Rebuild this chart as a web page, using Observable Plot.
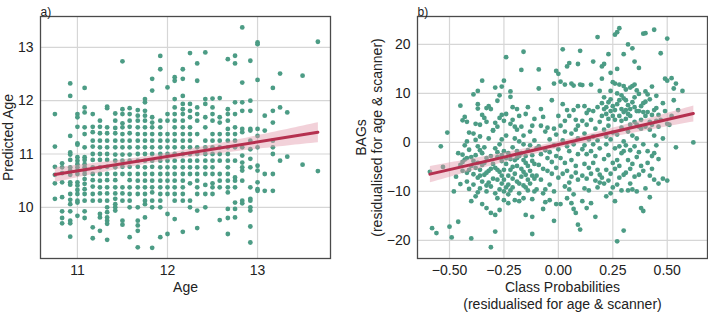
<!DOCTYPE html>
<html><head><meta charset="utf-8">
<script src="https://cdn.jsdelivr.net/npm/d3@7"></script>
<script src="https://cdn.jsdelivr.net/npm/@observablehq/plot@0.6"></script>
<style>
body{margin:0;background:#fff;font-family:"Liberation Sans",Arial,sans-serif}
#wrap{display:flex;width:708px;height:312px}
</style></head><body><div id="wrap"></div>
<script>
// Panel a: chronological age (monthly bins) and predicted age per bin
const ageBins = [10.75, 10.83, 10.92, 11.0, 11.08, 11.17, 11.25, 11.33, 11.42, 11.5, 11.58, 11.67, 11.75, 11.83, 11.92, 12.0, 12.08, 12.17, 12.25, 12.33, 12.42, 12.5, 12.58, 12.67, 12.75, 12.83, 12.92, 13.0, 13.08, 13.17, 13.25, 13.33, 13.5, 13.67];
const predictedByBin = [
 [11.75, 11.14, 10.76, 10.61, 10.45, 10.16],
 [10.825, 10.75, 10.64, 10.47, 10.19, 9.925, 9.8, 9.7],
 [12.325, 12.09, 11.34, 11.03, 10.99, 10.89, 10.75, 10.69, 10.61, 10.47, 10.425, 10.25, 10.14, 10.06, 9.925, 9.75, 9.7, 9.45],
 [11.75, 11.69, 11.51, 11.2, 11.175, 10.94, 10.875, 10.81, 10.75, 10.69, 10.625, 10.47, 10.41, 10.325, 10.25, 10.125, 10.09, 9.84],
 [12.24, 11.875, 11.78, 11.5, 11.375, 11.125, 10.94, 10.89, 10.81, 10.75, 10.69, 10.625, 10.53, 10.44, 10.34, 10.25, 10.125, 9.925, 9.8],
 [11.75, 11.51, 11.41, 11.25, 11.14, 11.0, 10.89, 10.75, 10.625, 10.51, 10.39, 10.25, 10.125, 9.625, 9.42],
 [11.625, 11.51, 11.39, 11.25, 11.125, 11.0, 10.89, 10.75, 10.625, 10.5, 10.375, 10.26, 10.125, 9.875, 9.81, 9.56],
 [11.89, 11.86, 11.5, 11.39, 11.25, 11.125, 11.0, 10.89, 10.76, 10.625, 10.51, 10.375, 10.26, 10.125, 10.0, 9.91, 9.81, 9.75, 9.69, 9.39],
 [11.76, 11.625, 11.49, 11.39, 11.25, 11.125, 10.99, 10.875, 10.75, 10.625, 10.51, 10.375, 10.26, 10.16, 10.06, 10.0, 9.94],
 [12.74, 11.84, 11.75, 11.575, 11.5, 11.375, 11.25, 11.125, 10.99, 10.875, 10.76, 10.625, 10.375, 10.26, 10.125, 9.75, 9.675],
 [11.86, 11.75, 11.625, 11.51, 11.39, 11.25, 11.125, 10.99, 10.875, 10.76, 10.625, 10.51, 10.375, 10.25, 10.125, 10.0, 9.44],
 [11.825, 11.72, 11.625, 11.5, 11.375, 11.25, 11.125, 11.0, 10.875, 10.76, 10.625, 10.5, 10.375, 10.25, 10.0, 9.75, 9.66, 9.56, 9.25],
 [12.03, 11.97, 11.81, 11.72, 11.625, 11.5, 11.375, 11.25, 11.125, 11.0, 10.875, 10.75, 10.625, 10.5, 10.375, 10.25, 10.125, 10.06, 9.81],
 [12.41, 12.19, 11.69, 11.59, 11.5, 11.375, 11.25, 11.125, 11.0, 10.875, 10.76, 10.625, 10.5, 10.375, 10.28, 10.125, 10.0, 9.24],
 [12.84, 12.59, 11.625, 11.5, 11.375, 11.25, 11.125, 11.0, 10.875, 10.75, 10.625, 10.5, 10.375, 10.25, 10.125, 10.0, 9.44],
 [12.25, 11.75, 11.625, 11.375, 11.25, 11.125, 11.0, 10.875, 10.75, 10.625, 10.5, 10.375, 10.25, 9.875, 9.5],
 [12.44, 12.375, 12.03, 11.875, 11.75, 11.625, 11.5, 11.375, 11.25, 11.125, 11.0, 10.875, 10.75, 10.625, 10.5, 10.375, 10.25, 10.125, 9.78],
 [12.59, 12.41, 12.09, 11.94, 11.84, 11.75, 11.625, 11.5, 11.375, 11.25, 11.125, 11.0, 10.875, 10.75, 10.625, 10.5, 10.375, 10.25, 10.125, 9.54],
 [12.894, 11.94, 11.81, 11.69, 11.5, 11.375, 11.25, 11.125, 11.0, 10.875, 10.75, 10.625, 10.45, 10.125, 10.0],
 [12.7, 12.375, 11.875, 11.75, 11.625, 11.375, 11.125, 11.0, 10.875, 10.75, 10.625, 10.5, 10.375, 10.25, 9.94, 9.61],
 [12.906, 12.03, 11.94, 11.69, 11.5, 11.25, 11.125, 11.0, 10.875, 10.75, 10.625, 10.42, 10.25, 10.0],
 [12.04, 11.875, 11.75, 11.625, 11.375, 11.25, 11.125, 11.0, 10.875, 10.75, 10.625, 10.45, 10.375, 10.25],
 [12.05, 11.69, 11.59, 11.375, 11.25, 11.125, 11.0, 10.875, 10.625, 10.5, 10.375, 9.76],
 [12.78, 11.84, 11.75, 11.625, 11.47, 11.375, 11.25, 11.125, 11.0, 10.875, 10.75, 10.625, 10.5, 10.375, 10.28, 9.97, 9.8, 9.5],
 [12.844, 12.7, 11.97, 11.75, 11.5, 11.375, 11.25, 11.125, 10.875, 10.56, 10.5, 10.375, 10.09, 9.97, 9.81],
 [13.375, 12.34, 11.97, 11.81, 11.47, 11.41, 11.125, 10.97, 10.84, 10.75, 10.69, 10.5, 10.125, 10.075],
 [12.75, 12.0, 11.81, 11.47, 11.44, 11.25, 11.09, 10.91, 10.75, 10.375, 10.16, 10.125, 10.0, 9.94, 9.64, 9.34],
 [13.094, 13.06, 12.39, 11.47, 11.34, 11.125, 10.78, 10.69, 10.47, 10.34, 10.31],
 [11.72, 11.44, 10.625, 10.31],
 [12.24, 11.81, 11.59, 11.25, 11.125, 11.0, 10.625, 10.31],
 [12.51, 11.875, 10.875],
 [11.78, 10.95],
 [12.47, 10.8],
 [13.106, 10.68]
];
const ageTicks = [11, 12, 13];
const predTicks = [10, 11, 12, 13];

// Panel b: [class probability residual, BAG residual]
const bagPoints = [
 [-0.59,-6],[-0.58,-17.5],[-0.56,-18.5],[-0.54,-0.8],[-0.53,-5],[-0.51,2],[-0.50,-17.2],[-0.49,-19.4],
 [-0.48,-10],[-0.46,-16.2],[-0.46,-2.2],[-0.45,7.5],[-0.44,4.5],[-0.43,5.2],[-0.42,4.2],[-0.44,-2.5],[-0.43,-3.5],[-0.44,-5.8],[-0.42,-6.2],[-0.41,2.0],[-0.42,0.2],[-0.41,-1.5],[-0.40,-12],[-0.40,-19.6],[-0.41,-5.6],[-0.40,-4.8],[-0.43,-0.6],
 [-0.39,9.8],[-0.37,10.5],[-0.35,12.6],[-0.37,7.8],[-0.37,6.9],[-0.38,3.8],[-0.36,3.6],[-0.34,5],[-0.35,5.6],[-0.33,7],[-0.32,7.4],[-0.31,6.8],[-0.39,1.8],[-0.38,0.5],[-0.37,-0.8],[-0.36,-1.6],[-0.38,-2.6],[-0.35,-2.2],[-0.39,-3.8],[-0.37,-4.2],[-0.35,-4.6],[-0.33,-3.2],[-0.31,-2.8],[-0.39,-6.5],[-0.37,-7.2],[-0.34,-6.6],[-0.32,-8.2],[-0.36,-9.4],[-0.33,-8.8],[-0.35,-12.6],[-0.33,-13.4],[-0.31,-14.4],[-0.31,-21.4],[-0.38,-11],[-0.34,-1],[-0.32,0.8],[-0.30,2.4],[-0.36,1.2],[-0.31,-5.4],[-0.33,4.2],
 [-0.29,11.2],[-0.28,8.5],[-0.27,9.6],[-0.26,11.4],[-0.25,12.6],[-0.24,17.4],[-0.27,5],[-0.26,5.6],[-0.25,4.4],[-0.24,5.8],[-0.29,4],[-0.30,2.5],[-0.28,3.2],[-0.22,9.3],[-0.22,10.4],[-0.21,7.2],[-0.21,4.6],[-0.20,3.2],[-0.22,3.8],[-0.29,-1.2],[-0.27,-0.4],[-0.25,-1.8],[-0.23,-2.2],[-0.28,-3],[-0.26,-3.8],[-0.24,-4.4],[-0.22,-3.4],[-0.29,-5.2],[-0.27,-6],[-0.25,-5.6],[-0.23,-6.8],[-0.21,-5],[-0.28,-7.6],[-0.26,-8.4],[-0.24,-9.2],[-0.22,-9.8],[-0.25,-10],[-0.23,-10.6],[-0.28,-11.4],[-0.29,-14.8],[-0.27,-13.8],[-0.25,-11.8],[-0.23,-12.4],[-0.29,-18.2],[-0.21,-1],[-0.20,0.8],[-0.24,1.4],[-0.26,0.6],[-0.21,-7.4],[-0.20,-11.8],
 [-0.17,14.8],[-0.16,18.5],[-0.19,6.8],[-0.18,5.4],[-0.15,5.8],[-0.14,7.2],[-0.12,3.4],[-0.19,2.6],[-0.17,3.2],[-0.16,1.4],[-0.13,2.2],[-0.11,0.4],[-0.19,-1.8],[-0.18,-2.8],[-0.17,-2.2],[-0.16,-3.6],[-0.15,-4.2],[-0.14,-1.6],[-0.12,-2.6],[-0.19,-4.8],[-0.17,-5.4],[-0.15,-6.6],[-0.14,-7.6],[-0.13,-5.8],[-0.11,-4.4],[-0.18,-8.4],[-0.16,-8.8],[-0.14,-9.8],[-0.12,-6.8],[-0.16,-11.4],[-0.18,-12],[-0.12,-11.6],[-0.11,-10],[-0.15,-14.8],[-0.12,-15.2],[-0.12,-18.7],[-0.13,-0.6],[-0.10,-1.2],[-0.10,-6.8],[-0.18,0.2],[-0.11,4.8],[-0.16,-0.4],
 [-0.09,14.9],[-0.09,11],[-0.08,6.8],[-0.07,5.2],[-0.08,3.4],[-0.06,2.2],[-0.05,3],[-0.03,8.6],[-0.02,12],[-0.01,14.6],[0.00,14],[-0.02,2.8],[-0.09,-0.8],[-0.08,-2.4],[-0.06,-1.6],[-0.05,-3.2],[-0.04,-2],[-0.03,-4],[-0.02,-0.6],[-0.01,-2.8],[-0.09,-4.6],[-0.07,-5.4],[-0.05,-5.8],[-0.03,-6.4],[-0.01,-5.2],[-0.08,-7.6],[-0.06,-9.6],[-0.04,-8.6],[-0.02,-10],[-0.07,-10.4],[-0.04,-11.8],[-0.01,-12.6],[-0.02,-16],[-0.07,-13.6],[-0.04,0.6],[-0.01,1.6],[0.00,5.4],[0.00,-7.2],[-0.06,-12.2],
 [0.02,19],[0.04,15.5],[0.05,16.2],[0.09,16],[0.01,12.4],[0.03,11.8],[0.06,12],[0.07,11.6],[0.02,7.8],[0.04,6.6],[0.05,5.4],[0.07,6.6],[0.08,4.6],[0.09,7.4],[0.01,3.4],[0.03,2.2],[0.06,1.8],[0.08,2.6],[0.09,3.4],[0.02,0.4],[0.04,-0.8],[0.05,-1.8],[0.07,-0.4],[0.09,0.8],[0.01,-3.2],[0.03,-4.2],[0.06,-3.6],[0.08,-4.8],[0.02,-6.4],[0.04,-5.8],[0.06,-7],[0.08,-6.2],[0.09,-7.6],[0.03,-9],[0.05,-9.6],[0.07,-10.6],[0.01,-12.6],[0.04,-11.4],[0.07,-13.6],[0.08,-14.4],[0.09,-16.8],[0.10,-17.8],[0.05,-8.2],[0.00,-1.4],[0.03,4.4],[0.09,-2.4],[0.06,-12.4],
 [0.10,18.7],[0.16,16.5],[0.18,21.5],[0.10,11.8],[0.11,11.7],[0.15,11.8],[0.19,10.5],[0.12,7.4],[0.13,6],[0.14,6.6],[0.16,6.4],[0.18,7.2],[0.11,4.4],[0.13,3.6],[0.15,4.6],[0.17,2.8],[0.19,4.2],[0.12,1.8],[0.14,0.6],[0.16,1.2],[0.18,0.4],[0.11,-1.4],[0.13,-2.4],[0.15,-1.8],[0.17,-2.8],[0.19,-1.2],[0.12,-4.4],[0.14,-5.2],[0.16,-4.2],[0.18,-5.6],[0.11,-6.8],[0.13,-7.4],[0.15,-6.4],[0.17,-7.8],[0.19,-6.6],[0.12,-9.4],[0.14,-9.8],[0.18,-9.2],[0.15,-12.4],[0.17,-15.2],[0.11,-12],[0.13,-13.4],[0.19,-8.2],[0.20,-7.2],[0.16,-0.4],[0.12,-0.6],[0.20,5.4],
 [0.20,15.5],[0.21,16],[0.23,18],[0.24,14.2],[0.26,22],[0.27,22.5],[0.28,23.3],[0.27,15],[0.20,13],[0.24,10.5],[0.25,12.3],[0.26,12],[0.28,11.8],[0.21,9.2],[0.23,8.2],[0.25,7.4],[0.27,7.8],[0.29,6.8],[0.22,5.8],[0.24,6.4],[0.26,4.6],[0.28,5.4],[0.30,6.2],[0.21,2.6],[0.23,3.4],[0.25,2],[0.27,1.6],[0.29,3],[0.22,-0.4],[0.24,0.6],[0.26,-1.2],[0.28,-0.8],[0.30,0.2],[0.21,-3.4],[0.23,-2.6],[0.25,-4.2],[0.27,-3.6],[0.29,-2.2],[0.22,-5.6],[0.24,-6.4],[0.26,-5.4],[0.28,-7.2],[0.30,-6.6],[0.21,-8.4],[0.23,-7.8],[0.25,-9.2],[0.27,-8.6],[0.29,-9.8],[0.22,-11],[0.24,-10.4],[0.26,-12],[0.27,-20.2],[0.30,-18],[0.28,-4.8],[0.22,1.2],[0.29,9.6],
 [0.30,18],[0.32,20],[0.34,19.2],[0.35,16.5],[0.37,15.2],[0.39,22.2],[0.40,22.3],[0.30,11.5],[0.31,10.8],[0.33,11.2],[0.34,11.5],[0.35,11.8],[0.36,10.6],[0.37,9.9],[0.31,8.6],[0.32,7.6],[0.33,6.8],[0.35,7.2],[0.37,6.4],[0.39,8],[0.31,4.8],[0.33,5.4],[0.35,4.2],[0.36,3.6],[0.38,4.6],[0.32,2.2],[0.34,1.4],[0.36,0.8],[0.38,2.8],[0.31,-0.6],[0.33,-1.6],[0.35,-0.8],[0.37,-2],[0.39,-0.4],[0.32,-3.6],[0.34,-4.4],[0.36,-3],[0.38,-4.8],[0.31,-6.2],[0.33,-5.4],[0.35,-7],[0.37,-6.6],[0.39,-5.8],[0.32,-9.8],[0.34,-9.6],[0.38,-13.4],[0.39,-14],[0.36,-10],[0.40,-9.4],[0.33,-8.4],[0.40,3.2],[0.30,-1.8],
 [0.44,23],[0.47,18.2],[0.50,21.2],[0.40,10.4],[0.43,11.4],[0.45,9.5],[0.49,13],[0.40,8.3],[0.42,8.8],[0.41,6.2],[0.43,5.6],[0.45,7],[0.47,4.6],[0.49,6.4],[0.42,2.6],[0.44,1.4],[0.46,3.2],[0.48,0.8],[0.50,3.8],[0.41,-1.8],[0.43,-2.8],[0.45,-0.6],[0.41,-4.2],[0.43,-5.4],[0.46,-3.4],[0.42,-6.8],[0.44,-7.6],[0.46,-8.4],[0.42,-11.2],[0.48,-7.4],[0.50,-7.8],[0.44,-2.2],
 [0.50,12.6],[0.52,13.1],[0.53,11],[0.54,12],[0.57,10.5],[0.52,5.4],[0.53,8.6],[0.51,3.6],[0.54,-1],[0.62,0],[0.55,6.6],
 [-0.47,-7],[-0.45,-8.5],[-0.44,-4],[-0.42,-8],[-0.41,-9.5],[-0.40,-3],[-0.39,-8.6],[-0.38,-5.2],[-0.37,-10.2],[-0.36,-6.8],[-0.35,-8],[-0.34,-4.2],[-0.33,-10],[-0.32,-5.8],[-0.31,-9],[-0.30,-7.4],[-0.30,-4.4],[-0.29,-10.4],[-0.28,-5.6],[-0.27,-9.6],[-0.26,-6.8],[-0.25,-7.6],[-0.24,-3.2],[-0.23,-8.6],[-0.22,-5.6],[-0.21,-9.2],[-0.20,-6.4],[-0.20,-3.6],[-0.19,-8],[-0.18,-10.4],[-0.17,-7],[-0.16,-6],[-0.15,-9.2],[-0.14,-4.8],[-0.13,-8.4],[-0.12,-3.8],[-0.11,-7.4],[-0.10,-9.6],[-0.45,-4.6],[-0.36,-5.6],[-0.28,-2],[-0.19,-3.2],[-0.15,-2.8],[-0.26,-2.6],[-0.33,-6.2],[-0.42,-3.2],
 [0.22,7.2],[0.24,8.8],[0.26,6.6],[0.28,8.6],[0.30,9],[0.32,5.8],[0.34,8.2],[0.36,6.4],[0.38,7.4],[0.40,5.4],[0.42,4.2],[0.44,6.6],[0.46,5.6],[0.48,8],[0.25,5.4],[0.27,10],[0.31,6.6],[0.35,9.2],[0.37,3.2],[0.41,9.8],[0.43,3.6],[0.20,8],[0.23,4.8],[0.33,3.6],[0.39,6.2],[0.45,4.4],[0.29,4.4],[0.21,6.8]
];
const probTicks = [-0.5, -0.25, 0, 0.25, 0.5];
const bagTicks = [-20, -10, 0, 10, 20];

const dotColor = "#4c9c85";
const lineColor = "#b5304f";
const bandColor = "#e39aab";
const gridColor = "#d6d6d6";
const frameColor = "#4a4a4a";
const font = "'Liberation Sans', Arial, sans-serif";

const panelA = ageBins.flatMap((a, i) => predictedByBin[i].map(p => ({age: a, pred: p})));
const panelB = bagPoints.map(([x, y]) => ({prob: x, bag: y}));

const wrap = document.getElementById("wrap");

const chartA = Plot.plot({
  width: 354, height: 312,
  marginLeft: 40, marginRight: 24, marginTop: 16, marginBottom: 54,
  style: {fontFamily: font, fontSize: "14px", color: "#222", background: "#fff"},
  x: {domain: [10.59, 13.81]},
  y: {domain: [9.04, 13.58]},
  marks: [
    Plot.gridX(ageTicks, {stroke: gridColor, strokeOpacity: 1, strokeWidth: 1.2}),
    Plot.gridY(predTicks, {stroke: gridColor, strokeOpacity: 1, strokeWidth: 1.2}),
    Plot.axisX({ticks: ageTicks, tickFormat: d3.format("d"), tickSize: 0, tickPadding: 7, fontSize: 14,
      label: "Age", labelAnchor: "center", labelArrow: "none", labelOffset: 33}),
    Plot.axisY({ticks: predTicks, tickFormat: d3.format("d"), tickSize: 0, tickPadding: 7, fontSize: 14,
      label: "Predicted Age", labelAnchor: "center", labelArrow: "none", labelOffset: 37}),
    Plot.dot(panelA, {x: "age", y: "pred", r: 2.4, fill: dotColor, stroke: null}),
    Plot.linearRegressionY(panelA, {x: "age", y: "pred", stroke: lineColor, strokeWidth: 3, fill: bandColor, fillOpacity: 0.45, ci: 0.95}),
    Plot.frame({stroke: frameColor, strokeWidth: 1.3}),
    Plot.text(["a)"], {frameAnchor: "top-left", dy: -9, textAnchor: "start", fontSize: 12, fill: "#222"})
  ]
});

const chartB = Plot.plot({
  width: 354, height: 312,
  marginLeft: 63, marginRight: 1, marginTop: 16, marginBottom: 54,
  style: {fontFamily: font, fontSize: "14px", color: "#222", background: "#fff"},
  x: {domain: [-0.647, 0.685]},
  y: {domain: [-23.7, 25.7]},
  marks: [
    Plot.gridX(probTicks, {stroke: gridColor, strokeOpacity: 1, strokeWidth: 1.2}),
    Plot.gridY(bagTicks, {stroke: gridColor, strokeOpacity: 1, strokeWidth: 1.2}),
    Plot.axisX({ticks: probTicks, tickFormat: d3.format(".2f"), tickSize: 0, tickPadding: 7, fontSize: 14,
      label: "Class Probabilities", labelAnchor: "center", labelArrow: "none", labelOffset: 33}),
    Plot.axisX({ticks: [], fontSize: 14,
      label: "(residualised for age & scanner)", labelAnchor: "center", labelArrow: "none", labelOffset: 50}),
    Plot.axisY({ticks: bagTicks, tickFormat: d3.format("d"), tickSize: 0, tickPadding: 7, fontSize: 14,
      label: "BAGs", labelAnchor: "center", labelArrow: "none", labelOffset: 61}),
    Plot.axisY({ticks: [], fontSize: 14,
      label: "(residualised for age & scanner)", labelAnchor: "center", labelArrow: "none", labelOffset: 45}),
    Plot.dot(panelB, {x: "prob", y: "bag", r: 2.4, fill: dotColor, stroke: null}),
    Plot.linearRegressionY(panelB, {x: "prob", y: "bag", stroke: lineColor, strokeWidth: 3, fill: bandColor, fillOpacity: 0.45, ci: 0.95}),
    Plot.frame({stroke: frameColor, strokeWidth: 1.3}),
    Plot.text(["b)"], {frameAnchor: "top-left", dy: -9, textAnchor: "start", fontSize: 12, fill: "#222"})
  ]
});

wrap.appendChild(chartA);
wrap.appendChild(chartB);
</script></body></html>
